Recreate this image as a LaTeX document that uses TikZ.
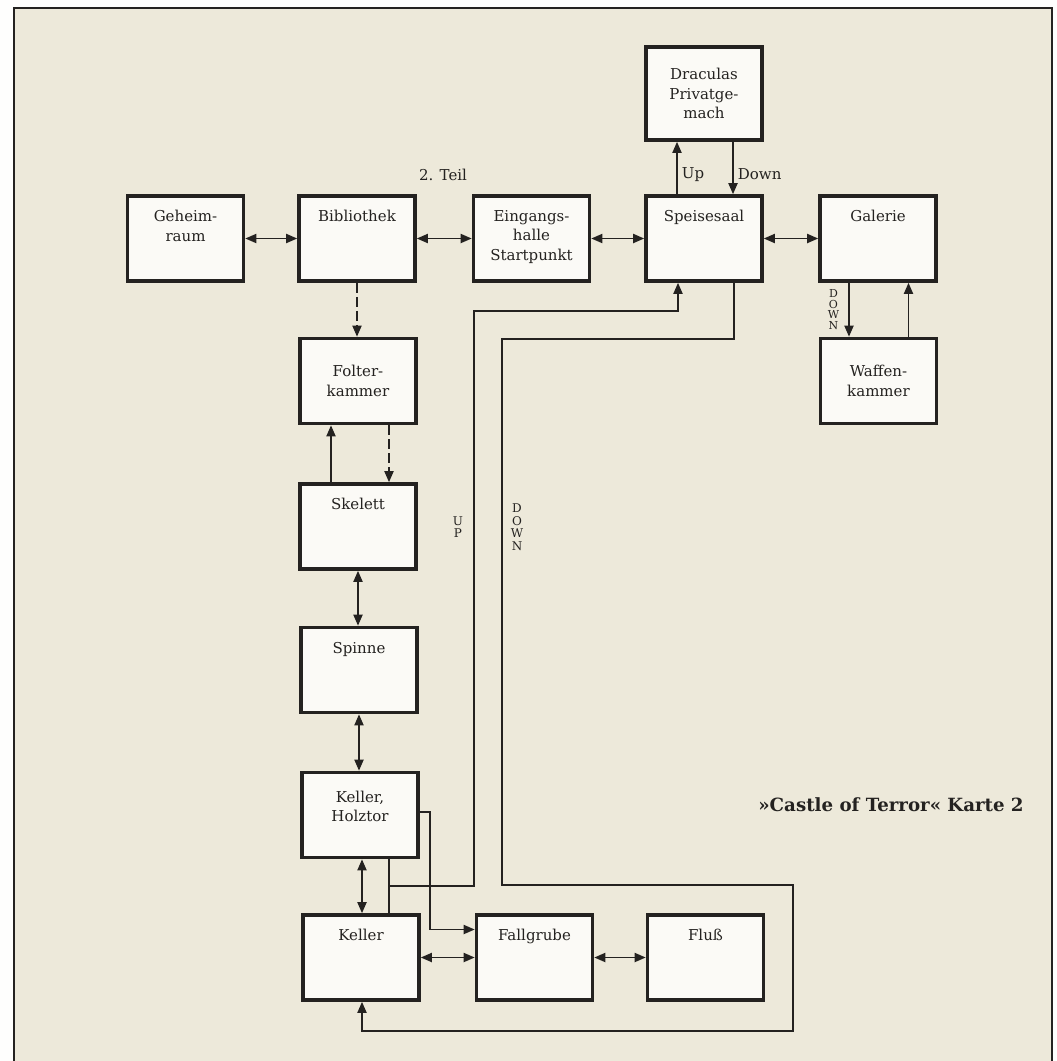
\documentclass[tikz,border=0pt]{standalone}
\usepackage{fontspec}
\setmainfont{DejaVu Serif}
\usetikzlibrary{arrows.meta,positioning,calc}
\definecolor{paper}{RGB}{237,233,218}
\definecolor{card}{RGB}{251,250,246}
\definecolor{ink}{RGB}{36,34,32}

\begin{document}
\begin{tikzpicture}[x=1pt, y=-1pt,
    box/.style={draw=ink, line width=3.6pt, fill=card, minimum width=116pt, minimum height=85pt, inner sep=0pt, align=center, font=\fontsize{15}{19.5}\selectfont, text=ink},
    roomtxt/.style={anchor=north, align=center, inner sep=0pt, yshift=-16pt, font=\fontsize{15}{19.5}\selectfont, text=ink},
    room/.style={box, label={[roomtxt]north:{#1}}},
    arr/.style={-{Triangle[length=11pt,width=9pt]}, line width=1.8pt, draw=ink},
    darr/.style={{Triangle[length=11pt,width=9pt]}-{Triangle[length=11pt,width=9pt]}, line width=1.8pt, draw=ink},
    lnk/.style={line width=1.8pt, draw=ink},
    dsh/.style={dash pattern=on 10pt off 4pt},
    lbl/.style={font=\fontsize{15}{18}\selectfont, text=ink, inner sep=1pt},
    vlbl/.style={font=\fontsize{12}{12.5}\selectfont, text=ink, align=center, inner sep=0pt}
]
\useasboundingbox (0,0) rectangle (1057,1061);
\fill[white!94!paper] (0,0) rectangle (1057,1061);
\fill[paper] (14,8) rectangle (1052,1061);
\draw[ink, line width=2.4pt] (14,1061) -- (14,8) -- (1052,8) -- (1052,1061);

\node[room={Geheim-\\raum}] (geh) at (185.5,238.5) {};
\node[room=Bibliothek] (bib) at (357,238.5) {};
\node[room={Eingangs-\\halle\\Startpunkt}] (ein) at (531.5,238.5) {};
\node[room=Speisesaal] (spe) at (704,238.5) {};
\node[room=Galerie] (gal) at (878,238.5) {};
\node[box, minimum height=93pt] (dra) at (704,93.5) {Draculas\\Privatge-\\mach};
\node[box] (waf) at (878.5,381) {Waffen-\\kammer};
\node[box] (fol) at (358,381) {Folter-\\kammer};
\node[room=Skelett] (ske) at (358,526.5) {};
\node[room=Spinne] (spi) at (359,670) {};
\node[box, label={[roomtxt, yshift=-4pt]north:{Keller,\\Holztor}}] (hol) at (360,815) {};
\node[room=Keller] (kel) at (361,957.5) {};
\node[room=Fallgrube] (fal) at (534.5,957.5) {};
\node[room=Fluß] (flu) at (705.5,957.5) {};

\node[lbl] (teil) at (443,175) {2. Teil};
\node[vlbl] (uplbl) at (458,527) {U\\P};
\node[vlbl] (dnlbl) at (517,527) {D\\O\\W\\N};
\node[font=\bfseries\fontsize{18.2}{21}\selectfont, text=ink] (title) at (891,805) {»Castle of Terror« Karte 2};

\coordinate (upA) at (474,311);
\coordinate (dnA) at (502,339);
\coordinate (dnB) at (793,885);
\coordinate (dnC) at (793,1031);

\draw[darr] (geh) -- (bib);
\draw[darr] (bib) -- (ein);
\draw[darr] (ein) -- (spe);
\draw[darr] (spe) -- (gal);
\draw[arr] ([xshift=-27pt]spe.north) -- node[lbl, right=3pt, pos=.375] (uptxt) {Up} ([xshift=-27pt]spe.north |- dra.south);
\draw[arr] ([xshift=29pt]dra.south) -- node[lbl, right=3pt, pos=.625] (dntxt) {Down} ([xshift=29pt]dra.south |- spe.north);
\draw[arr] ([xshift=-29pt]gal.south) -- node[vlbl, font=\fontsize{11}{10.5}\selectfont, left=9pt] (gdown) {D\\O\\W\\N} ([xshift=-29pt]gal.south |- waf.north);
\draw[arr] ([xshift=30pt]waf.north) -- ([xshift=30pt]waf.north |- gal.south);
\draw[arr, dsh] (bib.south) -- (bib.south |- fol.north);
\draw[arr, dsh] ([xshift=31pt]fol.south) -- ([xshift=31pt]fol.south |- ske.north);
\draw[arr] ([xshift=-27pt]ske.north) -- ([xshift=-27pt]ske.north |- fol.south);
\draw[darr] (ske) -- (ske |- spi.north);
\draw[darr] (spi.south) -- (spi.south |- hol.north);
\draw[darr] ([xshift=2pt]hol.south) -- ([xshift=2pt]hol.south |- kel.north);
\draw[lnk] ([xshift=29pt]hol.south) -- coordinate[pos=.5] (jn) ([xshift=29pt]hol.south |- kel.north);
\draw[arr] (jn) -| (upA) -| ([xshift=-26pt]spe.south);
\draw[arr] ([xshift=30pt]spe.south) |- (dnA) |- (dnB) -- (dnC) -| ([xshift=1pt]kel.south);
\draw[arr] ([yshift=3pt]hol.east) -| ([shift={(-45pt,28pt)}]fal.west) -- ([yshift=28pt]fal.west);
\draw[darr] (kel.east) -- (kel.east -| fal.west);
\draw[darr] (fal) -- (flu);
\end{tikzpicture}
\end{document}
